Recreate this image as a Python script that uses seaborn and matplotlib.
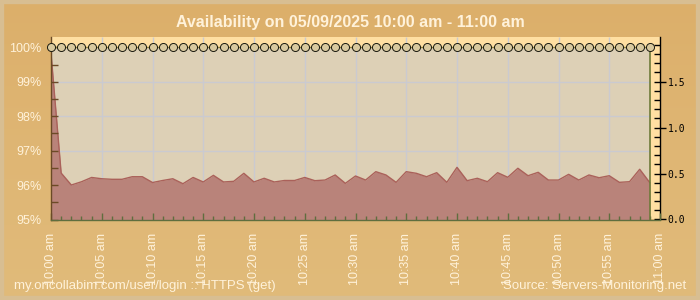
import numpy as np
import pandas as pd
import matplotlib
matplotlib.use("Agg")
import matplotlib.pyplot as plt
import seaborn as sns
from matplotlib.ticker import MultipleLocator, FixedLocator, NullFormatter
from matplotlib.patches import Rectangle
from matplotlib.colors import LinearSegmentedColormap

# ---------------- data ----------------
minutes = list(range(60))                     # 10:00 ... 10:59, one sample per minute
availability = [100.0] * 60                   # percent
response_time = [1.81, 0.505, 0.375, 0.41, 0.457, 0.443, 0.437, 0.437, 0.465, 0.465,
                 0.402, 0.424, 0.443, 0.389, 0.457, 0.408, 0.48, 0.408, 0.415, 0.502,
                 0.408, 0.448, 0.408, 0.424, 0.424, 0.457, 0.422, 0.429, 0.484, 0.393,
                 0.473, 0.429, 0.52, 0.484, 0.404, 0.52, 0.502, 0.465, 0.509, 0.404,
                 0.567, 0.422, 0.448, 0.411, 0.509, 0.459, 0.557, 0.476, 0.513, 0.429,
                 0.429, 0.491, 0.429, 0.484, 0.454, 0.476, 0.404, 0.411, 0.546, 0.40]
x_tick_minutes = [0, 5, 10, 15, 20, 25, 30, 35, 40, 45, 50, 55, 60]
x_tick_labels = ["10:00 am", "10:05 am", "10:10 am", "10:15 am", "10:20 am", "10:25 am",
                 "10:30 am", "10:35 am", "10:40 am", "10:45 am", "10:50 am", "10:55 am",
                 "11:00 am"]
left_ticks = [95, 96, 97, 98, 99, 100]
left_labels = ["95%", "96%", "97%", "98%", "99%", "100%"]
right_ticks = [0.0, 0.5, 1.0, 1.5]
right_labels = ["0.0", "0.5", "1.0", "1.5"]
grid_percents = [96, 97, 98, 99]
title = "Availability on 05/09/2025 10:00 am - 11:00 am"
footer_left = "my.oncollabim.com/user/login :: HTTPS (get)"
footer_right = "Source: Servers-Monitoring.net"

df = pd.DataFrame({"minute": minutes, "availability": availability,
                   "response": response_time})

# ---------------- style ----------------
sns.set_theme(style="white")
plt.rcParams['font.family'] = ['Liberation Sans', 'DejaVu Sans']

cream = '#FFF2DA'
fig = plt.figure(figsize=(7, 3), dpi=100)

# background
bg = fig.add_axes([0, 0, 1, 1], zorder=-10)
grad = np.linspace(0, 1, 300)[:, None] * np.ones((1, 10))
cmap = LinearSegmentedColormap.from_list('bg', ['#DCAF6A', '#DFB674', '#E1BB7A'])
bg.imshow(grad, aspect='auto', cmap=cmap, extent=[0, 1, 0, 1], origin='upper')
bg.add_patch(Rectangle((0, 0), 1, 1, fill=False, edgecolor='#D8BE92', lw=6,
                       transform=bg.transAxes))
bg.set_xlim(0, 1); bg.set_ylim(0, 1)
bg.axis('off')

ax = fig.add_axes([51 / 700, 1 - 219.5 / 300, 609 / 700, (219.5 - 37) / 300])
ax2 = ax.twinx()
ax.set_zorder(2)
ax2.set_zorder(1)
ax.patch.set_visible(False)
ax2.patch.set_visible(True)
ax2.patch.set_facecolor('#FFDFA2')

ax.set_xlim(0, 60)
ax.set_ylim(95, 100.3)
ax2.set_ylim(0, 1.984)

# availability area (beige)
ax2.fill_between(df["minute"], 95, df["availability"], transform=ax.transData,
                 color='#DDD0B6', lw=0, zorder=1)

# grid
ax2.vlines(x_tick_minutes[1:-1], 0, 1, transform=ax2.get_xaxis_transform(),
           color='#CACAD0', lw=1, zorder=1.5)
ax2.hlines(grid_percents, 0, minutes[-1], transform=ax.transData,
           color='#CACAD0', lw=1, zorder=1.5)

# response time area
ax2.fill_between(df["minute"], 0, df["response"], color='#B9837A', lw=0, zorder=2)
sns.lineplot(data=df, x="minute", y="response", ax=ax2, color='#AA615A', lw=1,
             zorder=3, legend=False)

# end of availability area
ax.vlines(minutes[-1], 95, 100, color='#6E7A3A', lw=1.2, zorder=3)

# availability line with markers
sns.lineplot(data=df, x="minute", y="availability", ax=ax, color='#8C7E3A', lw=1,
             marker='o', markersize=5.8, markerfacecolor='#D9C99E',
             markeredgecolor='#1a1a10', markeredgewidth=0.7, zorder=5,
             clip_on=False, legend=False)

ax.set_xlim(0, 60)
ax.set_ylim(95, 100.3)
ax2.set_ylim(0, 1.984)
ax.set_xlabel(""); ax.set_ylabel(""); ax2.set_xlabel(""); ax2.set_ylabel("")

# x ticks
ax.set_xticks(x_tick_minutes)
ax.set_xticklabels(x_tick_labels, rotation=90, va='top', ha='center')
ax.xaxis.set_minor_locator(MultipleLocator(1))
ax.tick_params(axis='x', which='major', direction='in', length=5, width=1,
               color='#5F6E3E', labelcolor=cream, labelsize=9, pad=9.5, bottom=True)
ax.tick_params(axis='x', which='minor', direction='in', length=3, width=1,
               color='#5F6E3E', bottom=True)

# left y ticks
ax.set_yticks(left_ticks)
ax.set_yticklabels(left_labels)
ax.yaxis.set_minor_locator(MultipleLocator(0.5))
ax.tick_params(axis='y', which='both', direction='in', length=5, width=1,
               color='#6B4A26', labelcolor=cream, labelsize=9, pad=7, left=True)

# right y ticks
ax2.set_yticks(right_ticks)
ax2.set_yticklabels(right_labels, family='DejaVu Sans Mono')
ax2.yaxis.set_minor_locator(FixedLocator([v / 10 for v in range(1, 20)]))
ax2.yaxis.set_minor_formatter(NullFormatter())
ax2.tick_params(axis='y', which='major', direction='inout', length=8, width=1,
                color='black', labelcolor='black', labelsize=7, pad=1.5, right=True)
ax2.tick_params(axis='y', which='minor', direction='in', length=4, width=1,
                color='black', right=True)
ax2.tick_params(axis='x', which='both', bottom=False, top=False, labelbottom=False)

# spines
for s in ['top', 'right']:
    ax.spines[s].set_visible(False)
ax.spines['left'].set_color('#6B4A26')
ax.spines['left'].set_linewidth(1)
ax.spines['bottom'].set_color('#5F6E3E')
ax.spines['bottom'].set_linewidth(1)
for s in ['top', 'left', 'bottom']:
    ax2.spines[s].set_visible(False)
ax2.spines['right'].set_color('black')
ax2.spines['right'].set_linewidth(1)

# texts
fig.text(0.5, 1 - 22 / 300, title, ha='center', va='center', fontsize=11.5,
         fontweight='bold', color=cream)
fig.text(14 / 700, 1 - 286 / 300, footer_left, ha='left', va='center',
         fontsize=9.5, color=cream)
fig.text(686 / 700, 1 - 286 / 300, footer_right, ha='right', va='center',
         fontsize=9.5, color=cream)

fig.savefig("out.png", dpi=100)
